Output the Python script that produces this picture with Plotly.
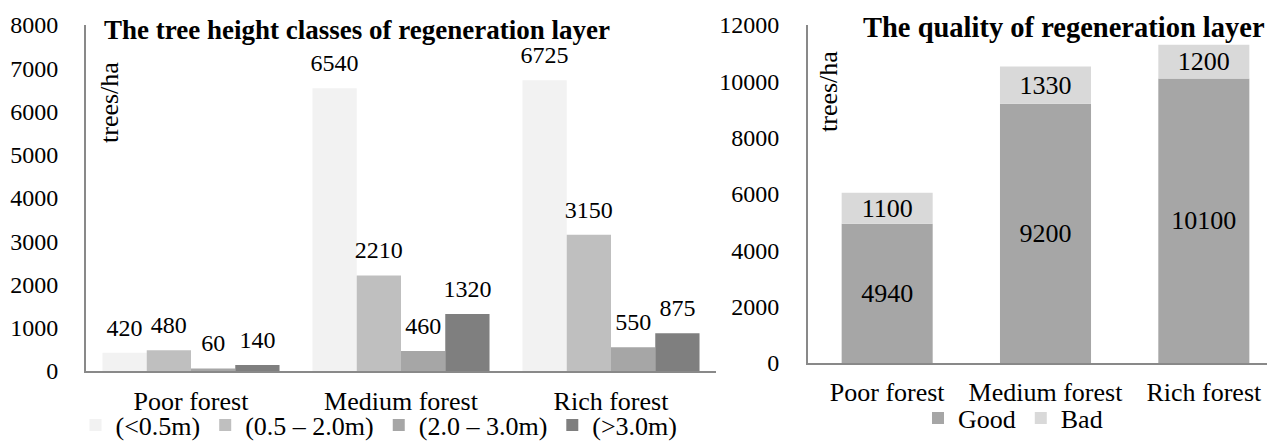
import plotly.graph_objects as go

categories = ["Poor forest", "Medium forest", "Rich forest"]

height_classes = ["(<0.5m)", "(0.5 – 2.0m)", "(2.0 – 3.0m)", "(>3.0m)"]
h_lt05 = [420, 6540, 6725]
h_05_20 = [480, 2210, 3150]
h_20_30 = [60, 460, 550]
h_gt30 = [140, 1320, 875]
height_colors = ["#f2f2f2", "#bfbfbf", "#a6a6a6", "#7f7f7f"]

quality_names = ["Good", "Bad"]
q_good = [4940, 9200, 10100]
q_bad = [1100, 1330, 1200]
quality_colors = ["#a6a6a6", "#d9d9d9"]

FONT = "Liberation Serif"
# the page body shifts the figure down by 8px
OFF_Y = 8
W, H = 1275, 441 - OFF_Y


def px(x):
    return x / W


def py(y):
    return 1 - (y - OFF_Y) / H


fig = go.Figure()

height_series = [h_lt05, h_05_20, h_20_30, h_gt30]
for i, (name, vals, col) in enumerate(zip(height_classes, height_series, height_colors)):
    fig.add_trace(go.Bar(
        x=categories, y=vals, name=name, marker=dict(color=col, line=dict(width=0)),
        offsetgroup=f"h{i}",
        xaxis="x", yaxis="y", legend="legend", hoverinfo="skip",
    ))
# value labels, lifted above the bars (grouped like the bars)
for i, vals in enumerate(height_series):
    fig.add_trace(go.Scatter(
        x=categories, y=vals, mode="markers+text", offsetgroup=f"h{i}",
        marker=dict(size=16, opacity=0), text=[str(v) for v in vals],
        textposition="top center", textfont=dict(family=FONT, size=24, color="black"),
        cliponaxis=False, showlegend=False, hoverinfo="skip", xaxis="x", yaxis="y",
    ))

q_base = [[0, 0, 0], q_good]
for name, vals, col, base in zip(quality_names, [q_good, q_bad], quality_colors, q_base):
    fig.add_trace(go.Bar(
        x=categories, y=vals, base=base, name=name, offsetgroup="q", width=0.575,
        marker=dict(color=col, line=dict(width=0)),
        text=[str(v) for v in vals], textposition="inside", insidetextanchor="middle",
        constraintext="none",
        textfont=dict(family=FONT, size=26, color="black"),
        xaxis="x2", yaxis="y2", legend="legend2", hoverinfo="skip",
    ))

axcol = "#898989"
fig.update_layout(
    width=W, height=H,
    margin=dict(l=0, r=0, t=0, b=0, autoexpand=False),
    paper_bgcolor="white", plot_bgcolor="white",
    font=dict(family=FONT, size=24, color="black"),
    barmode="group", scattermode="group",
    bargap=0.157, bargroupgap=0, scattergap=0.157,
    xaxis=dict(domain=[px(78), px(708)], showline=True, linecolor=axcol, linewidth=2,
               ticks="", tickfont=dict(family=FONT, size=26), ticklabelstandoff=6, showgrid=False,
               anchor="y", automargin=False),
    yaxis=dict(domain=[py(371), py(25)], range=[0, 8000], dtick=1000, tickformat="d",
               showline=True, linecolor=axcol, linewidth=2, showgrid=False, ticks="",
               tickfont=dict(family=FONT, size=24), ticklabelstandoff=21, zeroline=False,
               anchor="x", automargin=False),
    xaxis2=dict(domain=[px(800), 1.0], showline=True, linecolor=axcol, linewidth=2,
                ticks="", tickfont=dict(family=FONT, size=26), ticklabelstandoff=5, showgrid=False,
                anchor="y2", automargin=False),
    yaxis2=dict(domain=[py(363), py(25)], range=[0, 12000], dtick=2000, tickformat="d",
                showline=True, linecolor=axcol, linewidth=2, showgrid=False, ticks="",
                tickfont=dict(family=FONT, size=24), ticklabelstandoff=22, zeroline=False,
                anchor="x2", automargin=False),
    legend=dict(orientation="h", x=px(371), xanchor="center", y=py(425), yanchor="middle",
                font=dict(family=FONT, size=26), bgcolor="rgba(0,0,0,0)", traceorder="normal"),
    legend2=dict(orientation="h", x=px(1005), xanchor="center", y=py(418), yanchor="middle",
                 font=dict(family=FONT, size=26), bgcolor="rgba(0,0,0,0)", traceorder="normal"),
    showlegend=True,
)

fig.add_annotation(text="<b>The tree height classes of regeneration layer</b>", x=px(94), xref="paper",
                   xanchor="left", y=py(30), yref="paper", yanchor="middle", showarrow=False,
                   font=dict(family=FONT, size=27, color="black"))
fig.add_annotation(text="<b>The quality of regeneration layer</b>", x=px(1056), xref="paper",
                   xanchor="center", y=py(27), yref="paper", yanchor="middle", showarrow=False,
                   font=dict(family=FONT, size=28.5, color="black"))
fig.add_annotation(text="trees/ha", textangle=-90, x=px(101), xref="paper", xanchor="center",
                   y=py(102), yref="paper", yanchor="middle", showarrow=False,
                   font=dict(family=FONT, size=26, color="black"))
fig.add_annotation(text="trees/ha", textangle=-90, x=px(820), xref="paper", xanchor="center",
                   y=py(92), yref="paper", yanchor="middle", showarrow=False,
                   font=dict(family=FONT, size=26, color="black"))

fig.write_html("out.html")
